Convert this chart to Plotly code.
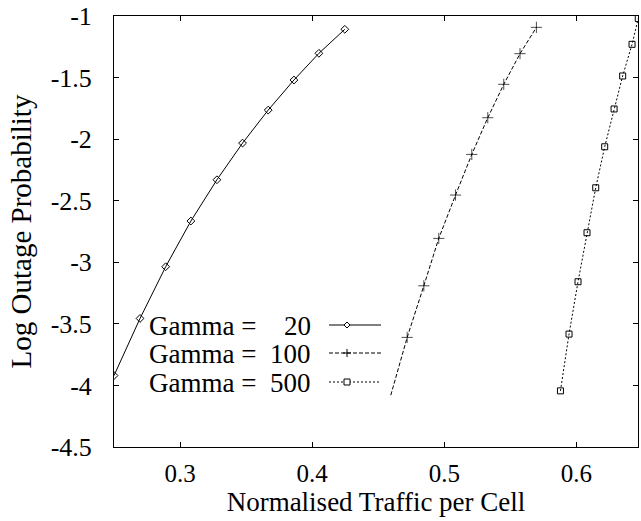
import plotly.graph_objects as go

# Data
g20_x = [0.250, 0.2697, 0.2891, 0.3082, 0.3279, 0.3473, 0.3667, 0.3862, 0.4051, 0.4247]
g20_y = [-3.92, -3.456, -3.036, -2.665, -2.330, -2.032, -1.764, -1.520, -1.303, -1.108]

g100_x = [0.4595, 0.4719, 0.4845, 0.4958, 0.5085, 0.5208, 0.5329, 0.5450, 0.5573, 0.5697]
g100_y = [-4.079, -3.610, -3.191, -2.806, -2.454, -2.124, -1.826, -1.555, -1.306, -1.092]

g500_x = [0.5879, 0.5944, 0.6012, 0.6080, 0.6146, 0.6214, 0.6285, 0.6350, 0.6421, 0.6468]
g500_y = [-4.044, -3.583, -3.158, -2.760, -2.395, -2.062, -1.755, -1.487, -1.230, -1.020]

series_names = ["20", "100", "500"]

x_ticks = [0.3, 0.4, 0.5, 0.6]
x_ticklabels = ["0.3", "0.4", "0.5", "0.6"]
y_ticks = [-1, -1.5, -2, -2.5, -3, -3.5, -4, -4.5]
y_ticklabels = ["-1", "-1.5", "-2", "-2.5", "-3", "-3.5", "-4", "-4.5"]

FONT = "'Liberation Serif', 'Times New Roman', Times, serif"
FS = 27

fig = go.Figure()

fig.add_trace(go.Scatter(
    x=g20_x, y=g20_y, mode="lines+markers",
    line=dict(color="black", width=1, dash="solid"),
    marker=dict(symbol="diamond-open", size=6, color="black", line=dict(width=1)),
    showlegend=False, hoverinfo="skip"))

g100_sizes = [0] + [8] * (len(g100_x) - 1)
fig.add_trace(go.Scatter(
    x=g100_x, y=g100_y, mode="lines+markers",
    line=dict(color="black", width=1, dash="4px,2px"),
    marker=dict(symbol="cross-thin-open", size=g100_sizes, color="black", line=dict(width=1, color="black")),
    showlegend=False, hoverinfo="skip"))

fig.add_trace(go.Scatter(
    x=g500_x, y=g500_y, mode="lines+markers",
    line=dict(color="black", width=1, dash="2px,2px"),
    marker=dict(symbol="square-open", size=6, color="black", line=dict(width=1)),
    showlegend=False, hoverinfo="skip"))

# Custom legend (text left, sample right), in paper coordinates
L, R, T, B = 114, 638, 16, 447
W, H = R - L, B - T
def px(x):
    return (x - L) / W
def py(y):
    return (B - y) / H

rows_y = [326, 354, 383]
dashes = ["solid", "4px,2px", "2px,2px"]
for i, name in enumerate(series_names):
    fig.add_annotation(x=px(147), y=py(rows_y[i]), xref="paper", yref="paper",
                       text="Gamma =", showarrow=False, xanchor="left", yanchor="middle",
                       font=dict(family=FONT, size=FS, color="black"))
    fig.add_annotation(x=px(313), y=py(rows_y[i]), xref="paper", yref="paper",
                       text=name, showarrow=False, xanchor="right", yanchor="middle",
                       font=dict(family=FONT, size=FS, color="black"))
    ly = py(rows_y[i] - 1)
    fig.add_shape(type="line", xref="paper", yref="paper",
                  x0=px(329), x1=px(381), y0=ly, y1=ly,
                  line=dict(color="black", width=1, dash=dashes[i]))

# legend markers
d = 3
y0 = rows_y[0] - 1
fig.add_shape(type="path", xref="paper", yref="paper",
              path=f"M {px(347-d)} {py(y0)} L {px(347)} {py(y0-d)} L {px(347+d)} {py(y0)} L {px(347)} {py(y0+d)} Z",
              line=dict(color="black", width=1), fillcolor="white")
y1 = rows_y[1] - 1
fig.add_shape(type="line", xref="paper", yref="paper", x0=px(347-4), x1=px(347+4), y0=py(y1), y1=py(y1),
              line=dict(color="black", width=1))
fig.add_shape(type="line", xref="paper", yref="paper", x0=px(347), x1=px(347), y0=py(y1-4), y1=py(y1+4),
              line=dict(color="black", width=1))
y2 = rows_y[2] - 1
fig.add_shape(type="rect", xref="paper", yref="paper", x0=px(347-3), x1=px(347+3), y0=py(y2-3), y1=py(y2+3),
              line=dict(color="black", width=1), fillcolor="white")

fig.update_layout(
    width=641, height=521,
    margin=dict(l=L, r=641 - R, t=T, b=521 - B, autoexpand=False),
    paper_bgcolor="white", plot_bgcolor="white",
    font=dict(family=FONT, size=FS, color="black"),
    hovermode=False,
    xaxis=dict(range=[0.25, 0.6466], tickvals=x_ticks, ticktext=x_ticklabels,
               ticks="inside", ticklen=5, tickcolor="black", mirror="ticks", automargin=False,
               ticklabelstandoff=4,
               showline=True, linecolor="black", linewidth=1, showgrid=False, zeroline=False,
               title=dict(text="Normalised Traffic per Cell", standoff=2,
                          font=dict(family=FONT, size=27)),
               tickfont=dict(family=FONT, size=25)),
    yaxis=dict(range=[-4.5, -1], tickvals=y_ticks, ticktext=y_ticklabels,
               ticks="inside", ticklen=5, tickcolor="black", mirror="ticks", automargin=False,
               ticklabelstandoff=16,
               showline=True, linecolor="black", linewidth=1, showgrid=False, zeroline=False,
               title=dict(text="Log Outage Probability", standoff=10,
                          font=dict(family=FONT, size=29)),
               tickfont=dict(family=FONT, size=26)),
)

fig.write_html("out.html", config={"displayModeBar": False},
               post_script="document.body.style.margin='0';document.body.style.padding='0';")
